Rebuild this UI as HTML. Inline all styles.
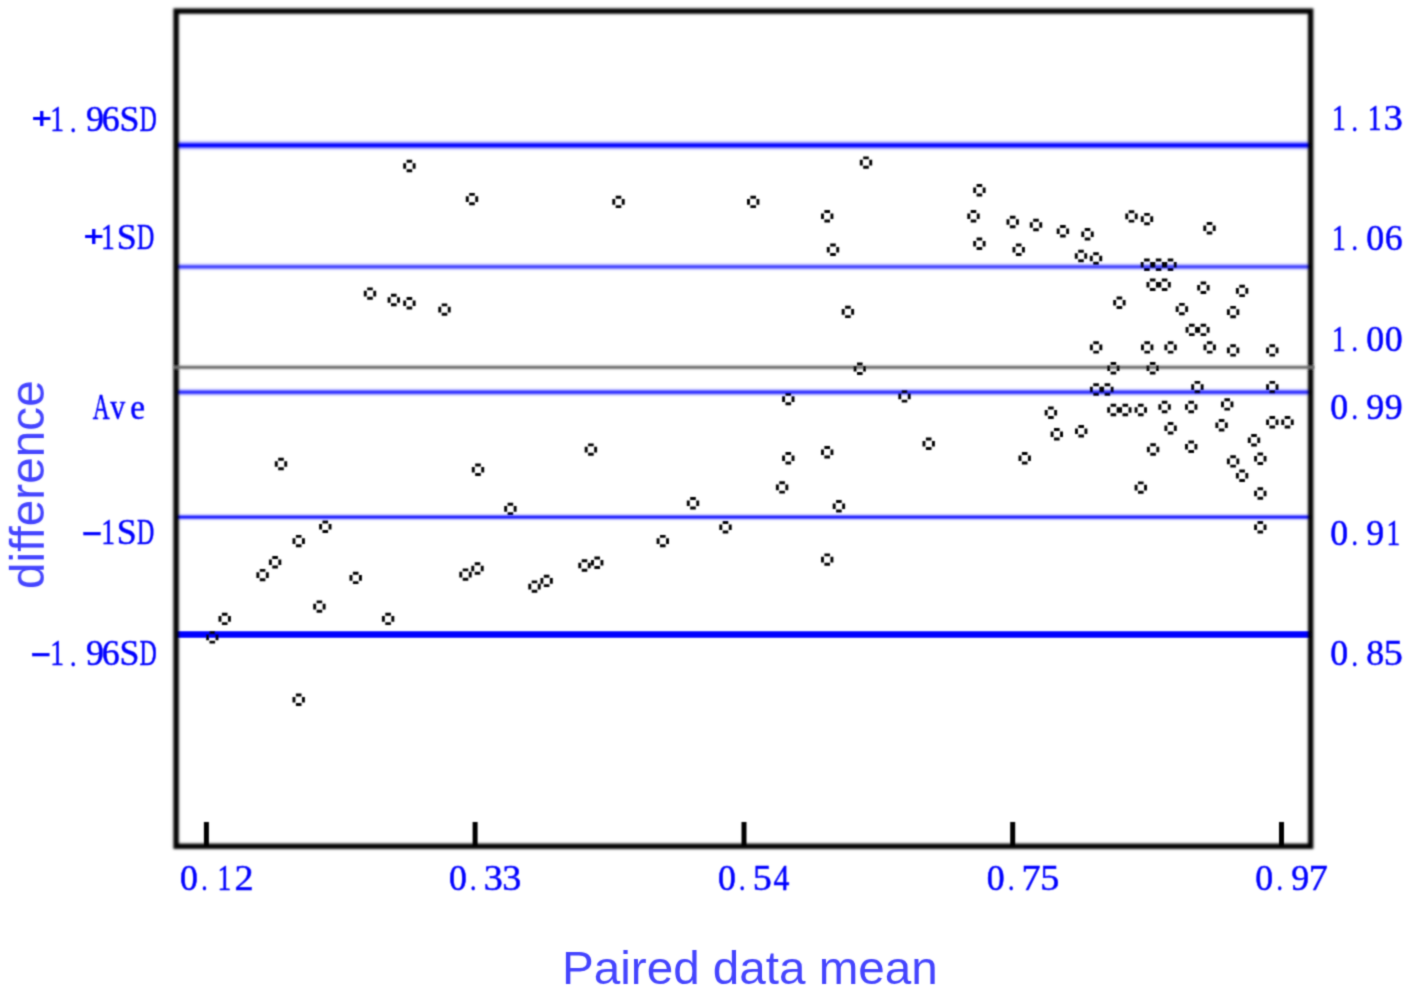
<!DOCTYPE html>
<html><head><meta charset="utf-8"><style>
html,body{margin:0;padding:0;background:#fff;width:1410px;height:991px;overflow:hidden}
svg{position:absolute;left:0;top:0}
</style></head><body>
<svg width="1410" height="991" viewBox="0 0 1410 991">
<defs><filter id="bl" filterUnits="userSpaceOnUse" x="0" y="0" width="1410" height="991"><feConvolveMatrix order="5" kernelMatrix="0.00009 0.00198 0.00548 0.00198 0.00009 0.00198 0.04220 0.11707 0.04220 0.00198 0.00548 0.11707 0.32480 0.11707 0.00548 0.00198 0.04220 0.11707 0.04220 0.00198 0.00009 0.00198 0.00548 0.00198 0.00009" edgeMode="none"/></filter>
<path id="mk" d="M-2.8,-6.2h5.6v2.95h-5.6z M-2.8,3.25h5.6v2.95h-5.6z M-6.2,-2.8h2.95v5.6h-2.95z M3.25,-2.8h2.95v5.6h-2.95z"/><linearGradient id="gl0" x1="0" y1="0" x2="0" y2="1"><stop offset="0.0000" stop-color="#0000ff" stop-opacity="0.0060"/><stop offset="0.0312" stop-color="#0000ff" stop-opacity="0.0111"/><stop offset="0.0625" stop-color="#0000ff" stop-opacity="0.0198"/><stop offset="0.0938" stop-color="#0000ff" stop-opacity="0.0340"/><stop offset="0.1250" stop-color="#0000ff" stop-opacity="0.0561"/><stop offset="0.1562" stop-color="#0000ff" stop-opacity="0.0889"/><stop offset="0.1875" stop-color="#0000ff" stop-opacity="0.1353"/><stop offset="0.2188" stop-color="#0000ff" stop-opacity="0.1979"/><stop offset="0.2500" stop-color="#0000ff" stop-opacity="0.2780"/><stop offset="0.2812" stop-color="#0000ff" stop-opacity="0.3753"/><stop offset="0.3125" stop-color="#0000ff" stop-opacity="0.4868"/><stop offset="0.3438" stop-color="#0000ff" stop-opacity="0.6065"/><stop offset="0.3750" stop-color="#0000ff" stop-opacity="0.7261"/><stop offset="0.4062" stop-color="#0000ff" stop-opacity="0.8353"/><stop offset="0.4375" stop-color="#0000ff" stop-opacity="0.9231"/><stop offset="0.4688" stop-color="#0000ff" stop-opacity="0.9802"/><stop offset="0.5000" stop-color="#0000ff" stop-opacity="1.0000"/><stop offset="0.5312" stop-color="#0000ff" stop-opacity="0.9802"/><stop offset="0.5625" stop-color="#0000ff" stop-opacity="0.9231"/><stop offset="0.5938" stop-color="#0000ff" stop-opacity="0.8353"/><stop offset="0.6250" stop-color="#0000ff" stop-opacity="0.7261"/><stop offset="0.6562" stop-color="#0000ff" stop-opacity="0.6065"/><stop offset="0.6875" stop-color="#0000ff" stop-opacity="0.4868"/><stop offset="0.7188" stop-color="#0000ff" stop-opacity="0.3753"/><stop offset="0.7500" stop-color="#0000ff" stop-opacity="0.2780"/><stop offset="0.7812" stop-color="#0000ff" stop-opacity="0.1979"/><stop offset="0.8125" stop-color="#0000ff" stop-opacity="0.1353"/><stop offset="0.8438" stop-color="#0000ff" stop-opacity="0.0889"/><stop offset="0.8750" stop-color="#0000ff" stop-opacity="0.0561"/><stop offset="0.9062" stop-color="#0000ff" stop-opacity="0.0340"/><stop offset="0.9375" stop-color="#0000ff" stop-opacity="0.0198"/><stop offset="0.9688" stop-color="#0000ff" stop-opacity="0.0111"/><stop offset="1.0000" stop-color="#0000ff" stop-opacity="0.0060"/></linearGradient><linearGradient id="gl1" x1="0" y1="0" x2="0" y2="1"><stop offset="0.0000" stop-color="#0000ff" stop-opacity="0.0043"/><stop offset="0.0312" stop-color="#0000ff" stop-opacity="0.0081"/><stop offset="0.0625" stop-color="#0000ff" stop-opacity="0.0144"/><stop offset="0.0938" stop-color="#0000ff" stop-opacity="0.0247"/><stop offset="0.1250" stop-color="#0000ff" stop-opacity="0.0407"/><stop offset="0.1562" stop-color="#0000ff" stop-opacity="0.0645"/><stop offset="0.1875" stop-color="#0000ff" stop-opacity="0.0982"/><stop offset="0.2188" stop-color="#0000ff" stop-opacity="0.1436"/><stop offset="0.2500" stop-color="#0000ff" stop-opacity="0.2017"/><stop offset="0.2812" stop-color="#0000ff" stop-opacity="0.2723"/><stop offset="0.3125" stop-color="#0000ff" stop-opacity="0.3531"/><stop offset="0.3438" stop-color="#0000ff" stop-opacity="0.4400"/><stop offset="0.3750" stop-color="#0000ff" stop-opacity="0.5268"/><stop offset="0.4062" stop-color="#0000ff" stop-opacity="0.6059"/><stop offset="0.4375" stop-color="#0000ff" stop-opacity="0.6696"/><stop offset="0.4688" stop-color="#0000ff" stop-opacity="0.7111"/><stop offset="0.5000" stop-color="#0000ff" stop-opacity="0.7254"/><stop offset="0.5312" stop-color="#0000ff" stop-opacity="0.7111"/><stop offset="0.5625" stop-color="#0000ff" stop-opacity="0.6696"/><stop offset="0.5938" stop-color="#0000ff" stop-opacity="0.6059"/><stop offset="0.6250" stop-color="#0000ff" stop-opacity="0.5268"/><stop offset="0.6562" stop-color="#0000ff" stop-opacity="0.4400"/><stop offset="0.6875" stop-color="#0000ff" stop-opacity="0.3531"/><stop offset="0.7188" stop-color="#0000ff" stop-opacity="0.2723"/><stop offset="0.7500" stop-color="#0000ff" stop-opacity="0.2017"/><stop offset="0.7812" stop-color="#0000ff" stop-opacity="0.1436"/><stop offset="0.8125" stop-color="#0000ff" stop-opacity="0.0982"/><stop offset="0.8438" stop-color="#0000ff" stop-opacity="0.0645"/><stop offset="0.8750" stop-color="#0000ff" stop-opacity="0.0407"/><stop offset="0.9062" stop-color="#0000ff" stop-opacity="0.0247"/><stop offset="0.9375" stop-color="#0000ff" stop-opacity="0.0144"/><stop offset="0.9688" stop-color="#0000ff" stop-opacity="0.0081"/><stop offset="1.0000" stop-color="#0000ff" stop-opacity="0.0043"/></linearGradient><linearGradient id="gl2" x1="0" y1="0" x2="0" y2="1"><stop offset="0.0000" stop-color="#0000ff" stop-opacity="0.0048"/><stop offset="0.0312" stop-color="#0000ff" stop-opacity="0.0090"/><stop offset="0.0625" stop-color="#0000ff" stop-opacity="0.0160"/><stop offset="0.0938" stop-color="#0000ff" stop-opacity="0.0275"/><stop offset="0.1250" stop-color="#0000ff" stop-opacity="0.0454"/><stop offset="0.1562" stop-color="#0000ff" stop-opacity="0.0719"/><stop offset="0.1875" stop-color="#0000ff" stop-opacity="0.1095"/><stop offset="0.2188" stop-color="#0000ff" stop-opacity="0.1601"/><stop offset="0.2500" stop-color="#0000ff" stop-opacity="0.2249"/><stop offset="0.2812" stop-color="#0000ff" stop-opacity="0.3036"/><stop offset="0.3125" stop-color="#0000ff" stop-opacity="0.3937"/><stop offset="0.3438" stop-color="#0000ff" stop-opacity="0.4906"/><stop offset="0.3750" stop-color="#0000ff" stop-opacity="0.5874"/><stop offset="0.4062" stop-color="#0000ff" stop-opacity="0.6757"/><stop offset="0.4375" stop-color="#0000ff" stop-opacity="0.7467"/><stop offset="0.4688" stop-color="#0000ff" stop-opacity="0.7929"/><stop offset="0.5000" stop-color="#0000ff" stop-opacity="0.8089"/><stop offset="0.5312" stop-color="#0000ff" stop-opacity="0.7929"/><stop offset="0.5625" stop-color="#0000ff" stop-opacity="0.7467"/><stop offset="0.5938" stop-color="#0000ff" stop-opacity="0.6757"/><stop offset="0.6250" stop-color="#0000ff" stop-opacity="0.5874"/><stop offset="0.6562" stop-color="#0000ff" stop-opacity="0.4906"/><stop offset="0.6875" stop-color="#0000ff" stop-opacity="0.3937"/><stop offset="0.7188" stop-color="#0000ff" stop-opacity="0.3036"/><stop offset="0.7500" stop-color="#0000ff" stop-opacity="0.2249"/><stop offset="0.7812" stop-color="#0000ff" stop-opacity="0.1601"/><stop offset="0.8125" stop-color="#0000ff" stop-opacity="0.1095"/><stop offset="0.8438" stop-color="#0000ff" stop-opacity="0.0719"/><stop offset="0.8750" stop-color="#0000ff" stop-opacity="0.0454"/><stop offset="0.9062" stop-color="#0000ff" stop-opacity="0.0275"/><stop offset="0.9375" stop-color="#0000ff" stop-opacity="0.0160"/><stop offset="0.9688" stop-color="#0000ff" stop-opacity="0.0090"/><stop offset="1.0000" stop-color="#0000ff" stop-opacity="0.0048"/></linearGradient><linearGradient id="gl3" x1="0" y1="0" x2="0" y2="1"><stop offset="0.0000" stop-color="#0000ff" stop-opacity="0.0053"/><stop offset="0.0312" stop-color="#0000ff" stop-opacity="0.0099"/><stop offset="0.0625" stop-color="#0000ff" stop-opacity="0.0177"/><stop offset="0.0938" stop-color="#0000ff" stop-opacity="0.0304"/><stop offset="0.1250" stop-color="#0000ff" stop-opacity="0.0502"/><stop offset="0.1562" stop-color="#0000ff" stop-opacity="0.0795"/><stop offset="0.1875" stop-color="#0000ff" stop-opacity="0.1210"/><stop offset="0.2188" stop-color="#0000ff" stop-opacity="0.1769"/><stop offset="0.2500" stop-color="#0000ff" stop-opacity="0.2485"/><stop offset="0.2812" stop-color="#0000ff" stop-opacity="0.3354"/><stop offset="0.3125" stop-color="#0000ff" stop-opacity="0.4350"/><stop offset="0.3438" stop-color="#0000ff" stop-opacity="0.5421"/><stop offset="0.3750" stop-color="#0000ff" stop-opacity="0.6490"/><stop offset="0.4062" stop-color="#0000ff" stop-opacity="0.7465"/><stop offset="0.4375" stop-color="#0000ff" stop-opacity="0.8250"/><stop offset="0.4688" stop-color="#0000ff" stop-opacity="0.8761"/><stop offset="0.5000" stop-color="#0000ff" stop-opacity="0.8938"/><stop offset="0.5312" stop-color="#0000ff" stop-opacity="0.8761"/><stop offset="0.5625" stop-color="#0000ff" stop-opacity="0.8250"/><stop offset="0.5938" stop-color="#0000ff" stop-opacity="0.7465"/><stop offset="0.6250" stop-color="#0000ff" stop-opacity="0.6490"/><stop offset="0.6562" stop-color="#0000ff" stop-opacity="0.5421"/><stop offset="0.6875" stop-color="#0000ff" stop-opacity="0.4350"/><stop offset="0.7188" stop-color="#0000ff" stop-opacity="0.3354"/><stop offset="0.7500" stop-color="#0000ff" stop-opacity="0.2485"/><stop offset="0.7812" stop-color="#0000ff" stop-opacity="0.1769"/><stop offset="0.8125" stop-color="#0000ff" stop-opacity="0.1210"/><stop offset="0.8438" stop-color="#0000ff" stop-opacity="0.0795"/><stop offset="0.8750" stop-color="#0000ff" stop-opacity="0.0502"/><stop offset="0.9062" stop-color="#0000ff" stop-opacity="0.0304"/><stop offset="0.9375" stop-color="#0000ff" stop-opacity="0.0177"/><stop offset="0.9688" stop-color="#0000ff" stop-opacity="0.0099"/><stop offset="1.0000" stop-color="#0000ff" stop-opacity="0.0053"/></linearGradient><linearGradient id="gl4" x1="0" y1="0" x2="0" y2="1"><stop offset="0.0000" stop-color="#707070" stop-opacity="0.0060"/><stop offset="0.0312" stop-color="#707070" stop-opacity="0.0111"/><stop offset="0.0625" stop-color="#707070" stop-opacity="0.0198"/><stop offset="0.0938" stop-color="#707070" stop-opacity="0.0340"/><stop offset="0.1250" stop-color="#707070" stop-opacity="0.0561"/><stop offset="0.1562" stop-color="#707070" stop-opacity="0.0889"/><stop offset="0.1875" stop-color="#707070" stop-opacity="0.1353"/><stop offset="0.2188" stop-color="#707070" stop-opacity="0.1979"/><stop offset="0.2500" stop-color="#707070" stop-opacity="0.2780"/><stop offset="0.2812" stop-color="#707070" stop-opacity="0.3753"/><stop offset="0.3125" stop-color="#707070" stop-opacity="0.4868"/><stop offset="0.3438" stop-color="#707070" stop-opacity="0.6065"/><stop offset="0.3750" stop-color="#707070" stop-opacity="0.7261"/><stop offset="0.4062" stop-color="#707070" stop-opacity="0.8353"/><stop offset="0.4375" stop-color="#707070" stop-opacity="0.9231"/><stop offset="0.4688" stop-color="#707070" stop-opacity="0.9802"/><stop offset="0.5000" stop-color="#707070" stop-opacity="1.0000"/><stop offset="0.5312" stop-color="#707070" stop-opacity="0.9802"/><stop offset="0.5625" stop-color="#707070" stop-opacity="0.9231"/><stop offset="0.5938" stop-color="#707070" stop-opacity="0.8353"/><stop offset="0.6250" stop-color="#707070" stop-opacity="0.7261"/><stop offset="0.6562" stop-color="#707070" stop-opacity="0.6065"/><stop offset="0.6875" stop-color="#707070" stop-opacity="0.4868"/><stop offset="0.7188" stop-color="#707070" stop-opacity="0.3753"/><stop offset="0.7500" stop-color="#707070" stop-opacity="0.2780"/><stop offset="0.7812" stop-color="#707070" stop-opacity="0.1979"/><stop offset="0.8125" stop-color="#707070" stop-opacity="0.1353"/><stop offset="0.8438" stop-color="#707070" stop-opacity="0.0889"/><stop offset="0.8750" stop-color="#707070" stop-opacity="0.0561"/><stop offset="0.9062" stop-color="#707070" stop-opacity="0.0340"/><stop offset="0.9375" stop-color="#707070" stop-opacity="0.0198"/><stop offset="0.9688" stop-color="#707070" stop-opacity="0.0111"/><stop offset="1.0000" stop-color="#707070" stop-opacity="0.0060"/></linearGradient>
<filter id="blf" filterUnits="userSpaceOnUse" x="0" y="0" width="1410" height="991"><feConvolveMatrix order="9" kernelMatrix="0.00000 0.00001 0.00006 0.00019 0.00028 0.00019 0.00006 0.00001 0.00000 0.00001 0.00013 0.00088 0.00274 0.00401 0.00274 0.00088 0.00013 0.00001 0.00006 0.00088 0.00585 0.01818 0.02653 0.01818 0.00585 0.00088 0.00006 0.00019 0.00274 0.01818 0.05650 0.08247 0.05650 0.01818 0.00274 0.00019 0.00028 0.00401 0.02653 0.08247 0.12036 0.08247 0.02653 0.00401 0.00028 0.00019 0.00274 0.01818 0.05650 0.08247 0.05650 0.01818 0.00274 0.00019 0.00006 0.00088 0.00585 0.01818 0.02653 0.01818 0.00585 0.00088 0.00006 0.00001 0.00013 0.00088 0.00274 0.00401 0.00274 0.00088 0.00013 0.00001 0.00000 0.00001 0.00006 0.00019 0.00028 0.00019 0.00006 0.00001 0.00000" edgeMode="none"/></filter>
<filter id="bl2" filterUnits="userSpaceOnUse" x="0" y="0" width="1410" height="991"><feConvolveMatrix order="5" kernelMatrix="0.00001 0.00042 0.00170 0.00042 0.00001 0.00042 0.02740 0.10988 0.02740 0.00042 0.00170 0.10988 0.44065 0.10988 0.00170 0.00042 0.02740 0.10988 0.02740 0.00042 0.00001 0.00042 0.00170 0.00042 0.00001" edgeMode="none"/></filter></defs>
<rect x="0" y="0" width="1410" height="991" fill="#fff"/>
<g filter="url(#bl)">

<line x1="176.7" y1="634.5" x2="1311.5" y2="634.5" stroke="#0000ff" stroke-width="6.6"/>
<rect x="176.7" y="138.455" width="1134.8" height="13.690" fill="url(#gl0)"/>
<rect x="176.7" y="261.403" width="1134.8" height="10.794" fill="url(#gl1)"/>
<rect x="176.7" y="386.656" width="1134.8" height="11.088" fill="url(#gl2)"/>
<rect x="176.7" y="512.297" width="1134.8" height="9.606" fill="url(#gl3)"/>

<g filter="url(#blf)"><rect x="176.1" y="11.1" width="1134.5500000000002" height="835.15" fill="none" stroke="#000" stroke-width="5.4"/></g>

<rect x="174.0" y="362.951" width="1140.5" height="8.698" fill="url(#gl4)"/>
<g stroke="#000" stroke-width="5"><line x1="206.4" y1="822" x2="206.4" y2="846" /><line x1="475.1" y1="822" x2="475.1" y2="846" /><line x1="744" y1="822" x2="744" y2="846" /><line x1="1012.7" y1="822" x2="1012.7" y2="846" /><line x1="1281.5" y1="822" x2="1281.5" y2="846" /></g>
<g fill="#000">
<use href="#mk" x="409.4" y="166.0"/>
<use href="#mk" x="472.0" y="199.1"/>
<use href="#mk" x="370.0" y="293.6"/>
<use href="#mk" x="393.8" y="300.0"/>
<use href="#mk" x="409.4" y="303.2"/>
<use href="#mk" x="444.5" y="309.6"/>
<use href="#mk" x="281.0" y="464.0"/>
<use href="#mk" x="478.0" y="469.8"/>
<use href="#mk" x="325.3" y="526.8"/>
<use href="#mk" x="298.7" y="541.1"/>
<use href="#mk" x="275.1" y="562.3"/>
<use href="#mk" x="262.6" y="575.1"/>
<use href="#mk" x="355.7" y="577.9"/>
<use href="#mk" x="319.4" y="606.6"/>
<use href="#mk" x="224.7" y="618.9"/>
<use href="#mk" x="388.1" y="618.9"/>
<use href="#mk" x="212.3" y="637.4"/>
<use href="#mk" x="298.7" y="699.8"/>
<use href="#mk" x="465.5" y="574.6"/>
<use href="#mk" x="477.5" y="568.5"/>
<use href="#mk" x="618.5" y="201.9"/>
<use href="#mk" x="753.2" y="201.9"/>
<use href="#mk" x="590.9" y="449.6"/>
<use href="#mk" x="510.4" y="508.9"/>
<use href="#mk" x="693.0" y="503.2"/>
<use href="#mk" x="725.5" y="527.2"/>
<use href="#mk" x="662.8" y="541.1"/>
<use href="#mk" x="534.5" y="586.6"/>
<use href="#mk" x="546.6" y="580.9"/>
<use href="#mk" x="584.5" y="565.5"/>
<use href="#mk" x="597.2" y="562.8"/>
<use href="#mk" x="866.0" y="162.6"/>
<use href="#mk" x="827.2" y="216.2"/>
<use href="#mk" x="833.0" y="249.8"/>
<use href="#mk" x="847.9" y="311.9"/>
<use href="#mk" x="979.4" y="190.2"/>
<use href="#mk" x="973.5" y="216.3"/>
<use href="#mk" x="979.4" y="243.8"/>
<use href="#mk" x="1012.7" y="222.0"/>
<use href="#mk" x="1018.7" y="249.8"/>
<use href="#mk" x="1036.0" y="225.0"/>
<use href="#mk" x="859.8" y="368.7"/>
<use href="#mk" x="788.3" y="399.1"/>
<use href="#mk" x="904.5" y="396.4"/>
<use href="#mk" x="928.7" y="443.8"/>
<use href="#mk" x="827.2" y="452.3"/>
<use href="#mk" x="788.3" y="458.3"/>
<use href="#mk" x="1024.7" y="458.3"/>
<use href="#mk" x="782.1" y="487.4"/>
<use href="#mk" x="838.9" y="506.2"/>
<use href="#mk" x="827.2" y="559.6"/>
<use href="#mk" x="1062.9" y="231.3"/>
<use href="#mk" x="1087.5" y="234.3"/>
<use href="#mk" x="1131.5" y="216.4"/>
<use href="#mk" x="1147.0" y="219.1"/>
<use href="#mk" x="1209.5" y="228.2"/>
<use href="#mk" x="1081.0" y="256.0"/>
<use href="#mk" x="1096.0" y="258.5"/>
<use href="#mk" x="1146.9" y="264.8"/>
<use href="#mk" x="1158.6" y="264.8"/>
<use href="#mk" x="1170.5" y="264.8"/>
<use href="#mk" x="1152.7" y="284.7"/>
<use href="#mk" x="1164.6" y="284.7"/>
<use href="#mk" x="1203.4" y="287.7"/>
<use href="#mk" x="1242.1" y="290.9"/>
<use href="#mk" x="1119.4" y="302.8"/>
<use href="#mk" x="1181.9" y="309.1"/>
<use href="#mk" x="1233.1" y="312.1"/>
<use href="#mk" x="1191.8" y="329.9"/>
<use href="#mk" x="1203.4" y="329.9"/>
<use href="#mk" x="1096.1" y="347.4"/>
<use href="#mk" x="1147.2" y="347.4"/>
<use href="#mk" x="1170.6" y="347.4"/>
<use href="#mk" x="1209.7" y="347.4"/>
<use href="#mk" x="1233.1" y="350.4"/>
<use href="#mk" x="1272.3" y="350.4"/>
<use href="#mk" x="1113.4" y="368.3"/>
<use href="#mk" x="1152.7" y="368.3"/>
<use href="#mk" x="1096.1" y="389.5"/>
<use href="#mk" x="1107.4" y="389.5"/>
<use href="#mk" x="1197.4" y="387.1"/>
<use href="#mk" x="1272.3" y="387.1"/>
<use href="#mk" x="1050.9" y="412.7"/>
<use href="#mk" x="1113.4" y="410.0"/>
<use href="#mk" x="1125.3" y="410.0"/>
<use href="#mk" x="1140.8" y="410.0"/>
<use href="#mk" x="1164.6" y="407.0"/>
<use href="#mk" x="1191.2" y="407.0"/>
<use href="#mk" x="1227.2" y="404.4"/>
<use href="#mk" x="1056.8" y="434.2"/>
<use href="#mk" x="1081.2" y="431.2"/>
<use href="#mk" x="1170.6" y="428.2"/>
<use href="#mk" x="1221.6" y="425.2"/>
<use href="#mk" x="1272.3" y="422.3"/>
<use href="#mk" x="1287.5" y="422.3"/>
<use href="#mk" x="1153.1" y="449.5"/>
<use href="#mk" x="1191.2" y="446.7"/>
<use href="#mk" x="1254.0" y="440.2"/>
<use href="#mk" x="1260.3" y="458.8"/>
<use href="#mk" x="1233.1" y="461.4"/>
<use href="#mk" x="1242.1" y="475.7"/>
<use href="#mk" x="1140.8" y="487.6"/>
<use href="#mk" x="1260.3" y="493.5"/>
<use href="#mk" x="1260.3" y="527.3"/>
</g>
<g font-family="Liberation Serif" font-size="35.8" text-anchor="middle" fill="#0000ff" stroke="#0000ff" stroke-width="0.5">
<text transform="translate(41.68,127.60) scale(0.941,0.8)" stroke-width="1.8">+</text><text transform="translate(57.12,131.10) scale(0.769,1)">1</text><text transform="translate(73.24,131.60) scale(0.720,0.85)">.</text><text transform="translate(95.00,131.10) scale(1.000,1)">9</text><text transform="translate(110.80,131.10) scale(1.000,1)">6</text><text transform="translate(129.50,131.10) scale(1.000,1)">S</text><text transform="translate(148.20,131.10) scale(0.667,1)">D</text>
<text transform="translate(40.84,666.50) scale(0.921,1.5)">–</text><text transform="translate(57.12,665.10) scale(0.769,1)">1</text><text transform="translate(73.24,665.60) scale(0.720,0.85)">.</text><text transform="translate(95.00,665.10) scale(1.000,1)">9</text><text transform="translate(110.80,665.10) scale(1.000,1)">6</text><text transform="translate(129.50,665.10) scale(1.000,1)">S</text><text transform="translate(148.20,665.10) scale(0.667,1)">D</text>
<text transform="translate(93.73,245.90) scale(0.941,0.8)" stroke-width="1.8">+</text><text transform="translate(107.82,249.40) scale(0.769,1)">1</text><text transform="translate(126.70,249.40) scale(1.000,1)">S</text><text transform="translate(145.50,249.40) scale(0.667,1)">D</text>
<text transform="translate(91.99,545.50) scale(0.921,1.5)">–</text><text transform="translate(108.02,544.10) scale(0.769,1)">1</text><text transform="translate(126.70,544.10) scale(1.000,1)">S</text><text transform="translate(145.50,544.10) scale(0.667,1)">D</text>
<text transform="translate(101.20,419.10) scale(0.654,1)">A</text><text transform="translate(117.80,419.10) scale(0.833,1)">v</text><text transform="translate(137.70,419.10) scale(0.929,1)">e</text>
<text transform="translate(1338.92,130.40) scale(0.769,1)">1</text><text transform="translate(1354.64,130.90) scale(0.720,0.85)">.</text><text transform="translate(1374.72,130.40) scale(0.769,1)">1</text><text transform="translate(1393.27,130.40) scale(1.067,1)">3</text>
<text transform="translate(1338.92,249.70) scale(0.769,1)">1</text><text transform="translate(1354.64,250.20) scale(0.720,0.85)">.</text><text transform="translate(1375.10,249.70) scale(1.000,1)">0</text><text transform="translate(1393.80,249.70) scale(1.000,1)">6</text>
<text transform="translate(1338.92,350.70) scale(0.769,1)">1</text><text transform="translate(1354.64,351.20) scale(0.720,0.85)">.</text><text transform="translate(1375.10,350.70) scale(1.000,1)">0</text><text transform="translate(1393.80,350.70) scale(1.000,1)">0</text>
<text transform="translate(1339.30,418.80) scale(1.000,1)">0</text><text transform="translate(1354.64,419.30) scale(0.720,0.85)">.</text><text transform="translate(1375.10,418.80) scale(1.000,1)">9</text><text transform="translate(1393.80,418.80) scale(1.000,1)">9</text>
<text transform="translate(1339.30,544.50) scale(1.000,1)">0</text><text transform="translate(1354.64,545.00) scale(0.720,0.85)">.</text><text transform="translate(1375.10,544.50) scale(1.000,1)">9</text><text transform="translate(1393.42,544.50) scale(0.769,1)">1</text>
<text transform="translate(1339.30,665.10) scale(1.000,1)">0</text><text transform="translate(1354.64,665.60) scale(0.720,0.85)">.</text><text transform="translate(1375.10,665.10) scale(1.000,1)">8</text><text transform="translate(1393.27,665.10) scale(1.067,1)">5</text>
<text transform="translate(189.00,889.70) scale(1.000,1)">0</text><text transform="translate(204.34,890.20) scale(0.720,0.85)">.</text><text transform="translate(224.42,889.70) scale(0.769,1)">1</text><text transform="translate(244.03,889.70) scale(1.067,1)">2</text>
<text transform="translate(457.90,889.70) scale(1.000,1)">0</text><text transform="translate(473.24,890.20) scale(0.720,0.85)">.</text><text transform="translate(493.17,889.70) scale(1.067,1)">3</text><text transform="translate(511.87,889.70) scale(1.067,1)">3</text>
<text transform="translate(726.90,889.70) scale(1.000,1)">0</text><text transform="translate(742.24,890.20) scale(0.720,0.85)">.</text><text transform="translate(762.17,889.70) scale(1.067,1)">5</text><text transform="translate(781.40,889.70) scale(0.889,1)">4</text>
<text transform="translate(995.80,889.70) scale(1.000,1)">0</text><text transform="translate(1011.14,890.20) scale(0.720,0.85)">.</text><text transform="translate(1031.07,889.70) scale(1.067,1)">7</text><text transform="translate(1049.77,889.70) scale(1.067,1)">5</text>
<text transform="translate(1264.30,889.70) scale(1.000,1)">0</text><text transform="translate(1279.64,890.20) scale(0.720,0.85)">.</text><text transform="translate(1300.10,889.70) scale(1.000,1)">9</text><text transform="translate(1318.27,889.70) scale(1.067,1)">7</text>
</g>
</g>
<g filter="url(#bl2)" font-family="Liberation Sans" fill="#4444ff">
<text x="562.0" y="984.2" font-size="46.8" textLength="375.8" lengthAdjust="spacingAndGlyphs">Paired data mean</text>
<text transform="translate(43.8,589.1) rotate(-90)" x="0" y="0" font-size="47.19" textLength="208.8" lengthAdjust="spacingAndGlyphs">difference</text>
</g>
</svg>
</body></html>
